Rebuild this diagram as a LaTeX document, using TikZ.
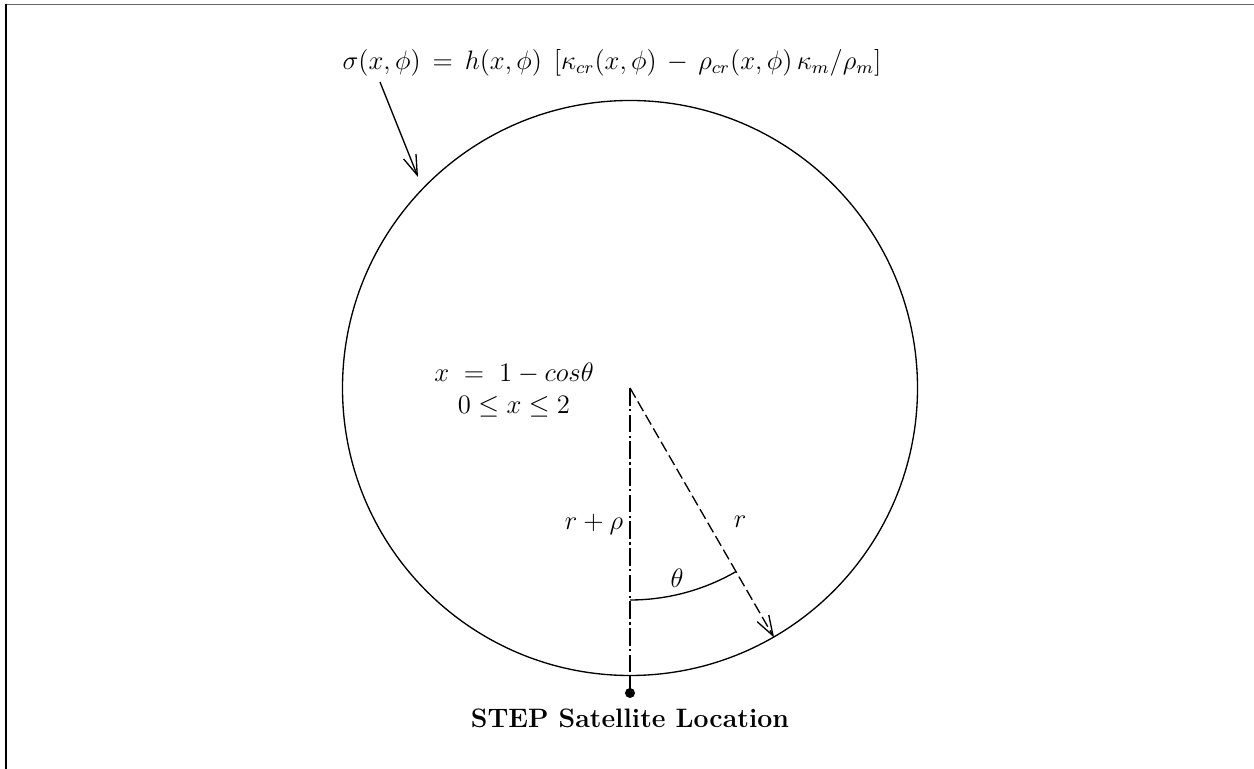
\documentclass[tikz,border=0pt,12pt]{standalone}
\usetikzlibrary{arrows.meta,calc}
\begin{document}
\begin{tikzpicture}[x=0.45pt,y=0.45pt,
  ln/.style={line width=0.6pt},
  barb/.style={-{Straight Barb[length=9pt,width=6pt,line width=0.6pt]}},
  dashdot/.style={dash pattern=on 8pt off 1.5pt on 1pt off 1.5pt},
  dsh/.style={dash pattern=on 5pt off 2pt},
  lbl/.style={inner sep=0pt}]
\useasboundingbox (0,0) rectangle (1254,-769);
% frame
\draw[line width=0.7pt,black!60] (6,-4.5) -- (1254,-4.5);
\draw[line width=0.8pt] (6,-4.5) -- (6,-769);
% circle
\coordinate (O) at (630,-388);
\node[draw,circle,ln,minimum size=258.75pt,inner sep=0pt] (C) at (O) {};
% satellite dot
\node[fill,circle,inner sep=0pt,minimum size=4.5pt] (S) at (630,-693) {};
\draw[ln,dashdot] (O) -- (C.south);
\draw[ln] (C.south) -- (S.center);
% radius arrow
\draw[ln,dsh,barb] (O) -- (C.-60);
% theta arc
\coordinate (A0) at ($(O)+(-90:212)$);
\draw[ln] (A0) arc[start angle=-90,end angle=-60,radius=212];
% labels
\node[lbl] (F) at (612,-63) {$\sigma(x,\phi)\,=\,h(x,\phi)\;\,[\kappa_{cr}(x,\phi)\,-\,\rho_{cr}(x,\phi)\,\kappa_m/\rho_m]$};
\coordinate (Fa) at (380,-82);
\coordinate (Ft) at (418,-177);
\draw[ln,barb] (Fa) -- (Ft);
\node[lbl] (X1) at (514,-373) {$x\;=\;1-cos\theta$};
\node[lbl] (X2) at (514,-407) {$0\le x\le 2$};
\node[lbl] (RR) at (594,-524) {$r+\rho$};
\node[lbl] (R) at (740,-522) {$r$};
\node[lbl] (T) at (677,-578) {$\theta$};
\node[lbl] (L) at (630,-718) {\bfseries STEP Satellite Location};
\end{tikzpicture}
\end{document}
